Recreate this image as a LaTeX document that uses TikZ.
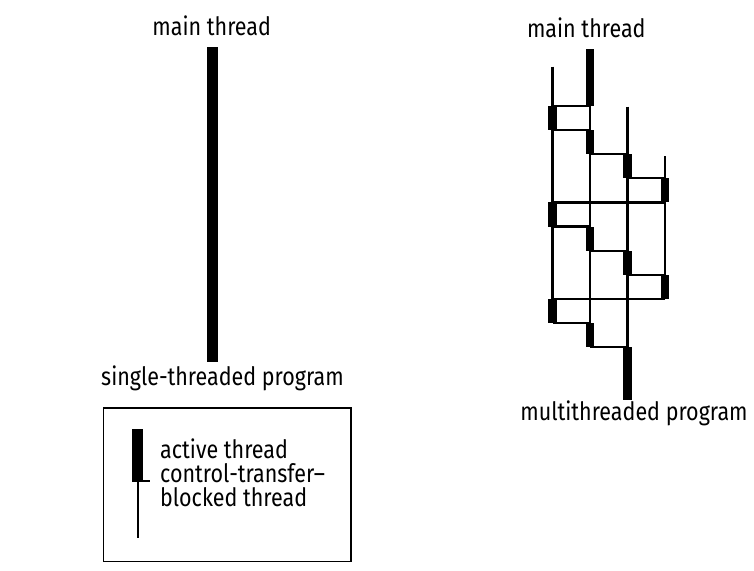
\documentclass[tikz,border=0pt]{standalone}
\usepackage{fontspec}
\setmainfont[FakeStretch=0.85]{Fira Sans}
\begin{document}
\begin{tikzpicture}[x=1pt,y=-1pt,
  lbl/.style={inner sep=0pt,anchor=base,font=\fontsize{25.3}{24}\selectfont},
  activebar/.style={fill=black,draw=none},
  thinline/.style={line width=2.2pt},
  xfer/.style={line width=2.2pt},
  legendbox/.style={draw,line width=1.6pt}]
\useasboundingbox (0,0) rectangle (754,570);
% ---------- single-threaded ----------
\node[lbl] (mainL) at (211.7,35) {main thread};
\fill[activebar] (207,46.5) rectangle (218,362.3);
\node[lbl] (single) at (222.5,385) {single-threaded program};
% ---------- legend ----------
\node[legendbox,minimum width=247.3pt,minimum height=153.7pt,inner sep=0pt,anchor=north west] (legend) at (102.7,407) {};
\fill[activebar] (132.3,429) rectangle (143.3,481.7);
\coordinate (lt) at (137.8,481);
\draw[thinline] (lt) -- (137.8,538.3);
\draw[xfer] (143.3,481) -- (150,481);
\node[lbl,anchor=base west,align=left] (legtext) at (160,506.7) {active thread\\control-transfer–\\blocked thread};
% ---------- multithreaded ----------
\node[lbl] (mainR) at (586.3,37) {main thread};
\def\xA{552.5}\def\xB{590}\def\xC{627.5}\def\xD{665}
% thin thread lines
\draw[thinline] (\xA,66.7) -- (\xA,322.9);
\draw[thinline] (\xB,50) -- (\xB,347);
\draw[thinline] (\xC,106.7) -- (\xC,400);
\draw[thinline] (\xD,156) -- (\xD,298.8);
% active bars: thread x, start, end
\foreach \xx/\ya/\yb in {\xB/49.3/106, \xA/106/130.1, \xB/130.1/154.2, \xC/154.2/178.3,
  \xD/178.3/202.4, \xA/202.4/226.5, \xB/226.5/250.6, \xC/250.6/274.7, \xD/274.7/298.8,
  \xA/298.8/322.9, \xB/322.9/347, \xC/347/400}
  \fill[activebar] (\xx-4.25,\ya) rectangle (\xx+4.25,\yb);
% control transfers
\foreach \xa/\xb/\yy in {\xB/\xA/106, \xA/\xB/130.1, \xB/\xC/154.2, \xC/\xD/178.3,
  \xD/\xA/202.4, \xA/\xB/226.5, \xB/\xC/250.6, \xC/\xD/274.7, \xD/\xA/298.8,
  \xA/\xB/322.9, \xB/\xC/347}
  \draw[xfer] (\xa,\yy) -- (\xb,\yy);
\node[lbl] (multi) at (634,420) {multithreaded program};
\end{tikzpicture}
\end{document}
